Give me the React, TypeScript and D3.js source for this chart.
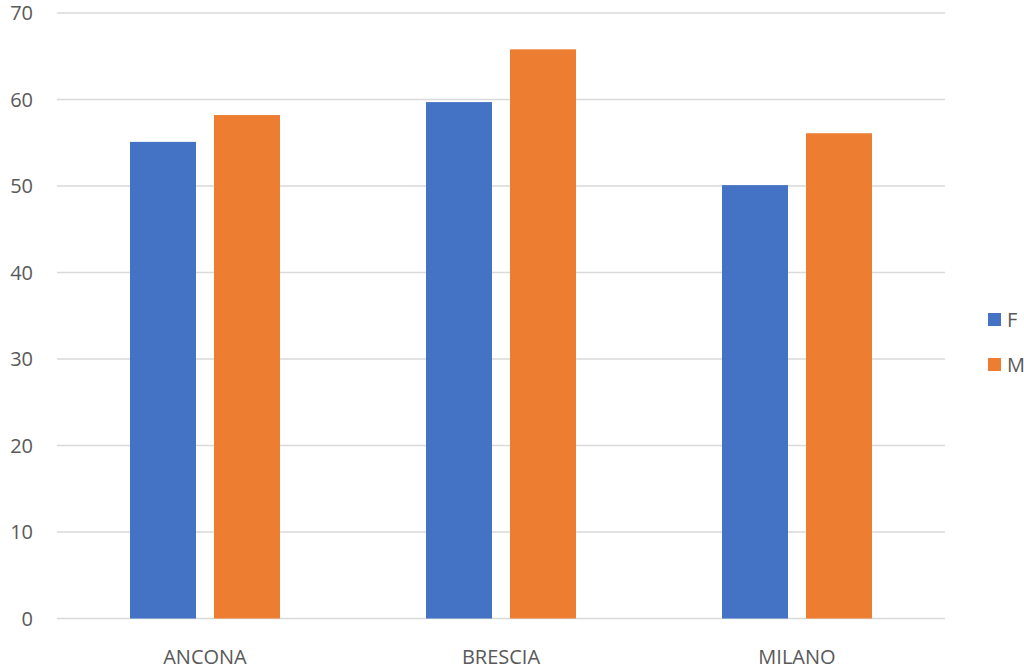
import React from "react";
import * as d3 from "d3";

const categories = ["ANCONA", "BRESCIA", "MILANO"];
const seriesNames = ["F", "M"];
const valuesF = [55.1, 59.7, 50.1];
const valuesM = [58.2, 65.8, 56.1];
const yTicks = [0, 10, 20, 30, 40, 50, 60, 70];
const colors = ["#4472C4", "#ED7D31"];

const W = 1024;
const H = 669;
const plotLeft = 57;
const plotRight = 945;
const plotTop = 13;
const plotBottom = 618.5;

export default function App() {
  const x = d3.scaleBand<string>().domain(categories).range([plotLeft, plotRight]).paddingInner(0).paddingOuter(0);
  const y = d3.scaleLinear().domain([0, 70]).range([plotBottom, plotTop]);
  const inner = d3.scaleBand<string>().domain(seriesNames).range([73, x.bandwidth() - 73]).paddingInner(18 / 84);
  const series = [valuesF, valuesM];
  const font = "'Open Sans', sans-serif";
  return (
    <svg width={W} height={H} style={{ position: "absolute", left: 0, top: 0, background: "#fff" }}>
      {yTicks.map((t) => (
        <g key={t}>
          <line x1={plotLeft} x2={plotRight} y1={y(t)} y2={y(t)} stroke="#d9d9d9" strokeWidth={1.5} />
          <text x={33} y={y(t) + 7} textAnchor="end" fontSize={20} fill="#595959" fontFamily={font}>
            {t}
          </text>
        </g>
      ))}
      {categories.map((c, i) => (
        <g key={c} transform={`translate(${x(c)},0)`}>
          {seriesNames.map((s, j) => (
            <rect
              key={s}
              x={inner(s)}
              y={y(series[j][i])}
              width={inner.bandwidth()}
              height={y(0) - y(series[j][i])}
              fill={colors[j]}
            />
          ))}
          <text x={x.bandwidth() / 2} y={664} textAnchor="middle" fontSize={20} fill="#595959" fontFamily={font}>
            {c}
          </text>
        </g>
      ))}
      {seriesNames.map((s, j) => (
        <g key={s} transform={`translate(988,${313 + j * 45})`}>
          <rect x={0} y={0} width={13} height={13} fill={colors[j]} />
          <text x={19} y={14} fontSize={20} fill="#595959" fontFamily={font}>
            {s}
          </text>
        </g>
      ))}
    </svg>
  );
}
